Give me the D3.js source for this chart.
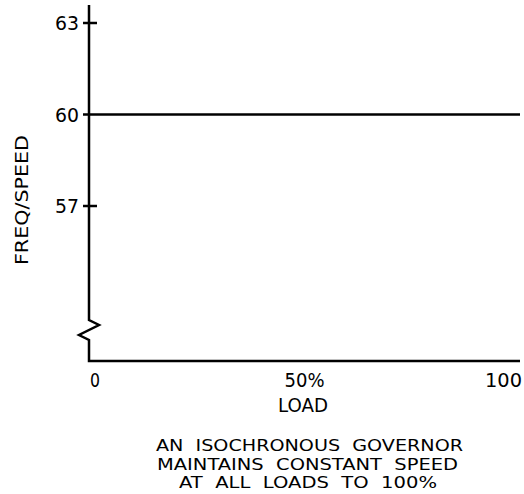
<!DOCTYPE html>
<html>
<head>
<meta charset="utf-8">
<script src="https://cdn.jsdelivr.net/npm/d3@7"></script>
<style>
  html, body { margin: 0; padding: 0; background: #fff; }
  svg { display: block; }
  text { font-family: "DejaVu Sans", sans-serif; fill: #000; }
</style>
</head>
<body>
<svg id="chart" width="524" height="494"></svg>
<script>
// ---- data ----
const loadTicks = [0, 50, 100];
const loadTickLabels = ["0", "50%", "100"];
const freqTicks = [63, 60, 57];
const freqTickLabels = ["63", "60", "57"];
const speedLoad = [0, 100];
const speedFreq = [60, 60];
const xTitle = "LOAD";
const yTitle = "FREQ/SPEED";
const captionLines = [
  "AN  ISOCHRONOUS  GOVERNOR",
  "MAINTAINS  CONSTANT  SPEED",
  "AT  ALL  LOADS  TO  100%"
];

// ---- layout ----
const svg = d3.select("#chart");
const axisX = 89, axisTop = 5, axisBottom = 361, plotRight = 520;
const x = d3.scaleLinear().domain([0, 100]).range([axisX, plotRight]);
const y = d3.scaleLinear().domain([57, 63]).range([206, 23]);
const stroke = 2.5;

// y axis with break (zigzag) and x axis
const brk = 320;
const yAxisPath = d3.path();
yAxisPath.moveTo(axisX, axisTop);
yAxisPath.lineTo(axisX, brk);
yAxisPath.lineTo(axisX + 10, brk + 5);
yAxisPath.lineTo(axisX - 10, brk + 15);
yAxisPath.lineTo(axisX, brk + 20);
yAxisPath.lineTo(axisX, axisBottom);
yAxisPath.lineTo(plotRight, axisBottom);
svg.append("path").attr("d", yAxisPath.toString())
  .attr("fill", "none").attr("stroke", "#000").attr("stroke-width", stroke)
  .attr("stroke-linejoin", "miter");

// y ticks
freqTicks.forEach((v, i) => {
  const yy = y(v);
  const isLine = v === 60;
  svg.append("line")
    .attr("x1", axisX - 6).attr("x2", isLine ? axisX : axisX + 8)
    .attr("y1", yy).attr("y2", yy)
    .attr("stroke", "#000").attr("stroke-width", stroke);
  svg.append("text")
    .attr("x", axisX - 34).attr("y", yy + 7)
    .attr("font-size", 19)
    .attr("textLength", 24).attr("lengthAdjust", "spacingAndGlyphs")
    .text(freqTickLabels[i]);
});

// speed line
const line = d3.line().x(d => x(d[0])).y(d => y(d[1]));
svg.append("path")
  .attr("d", line(speedLoad.map((l, i) => [l, speedFreq[i]])))
  .attr("fill", "none").attr("stroke", "#000").attr("stroke-width", stroke);

// x tick labels
const xAnchors = ["start", "middle", "end"];
const xOffsets = [1, 0, 2];
const xLens = [10, 40, 37];
loadTicks.forEach((v, i) => {
  svg.append("text")
    .attr("x", x(v) + xOffsets[i]).attr("y", 387)
    .attr("font-size", 19)
    .attr("text-anchor", xAnchors[i])
    .attr("textLength", xLens[i]).attr("lengthAdjust", "spacingAndGlyphs")
    .text(loadTickLabels[i]);
});

// x title
svg.append("text")
  .attr("x", 303).attr("y", 412)
  .attr("font-size", 19).attr("text-anchor", "middle")
  .attr("textLength", 50).attr("lengthAdjust", "spacingAndGlyphs")
  .text(xTitle);

// y title
svg.append("text")
  .attr("transform", "translate(28,200) rotate(-90)")
  .attr("font-size", 18).attr("text-anchor", "middle")
  .attr("textLength", 130).attr("lengthAdjust", "spacingAndGlyphs")
  .text(yTitle);

// caption
const capLens = [307, 301, 258];
const capX = [309.5, 307.5, 308];
captionLines.forEach((t, i) => {
  svg.append("text")
    .attr("x", capX[i]).attr("y", 451 + i * 18.7)
    .attr("font-size", 16).attr("text-anchor", "middle")
    .attr("textLength", capLens[i]).attr("lengthAdjust", "spacingAndGlyphs")
    .attr("xml:space", "preserve")
    .style("white-space", "pre")
    .text(t);
});
</script>
</body>
</html>
